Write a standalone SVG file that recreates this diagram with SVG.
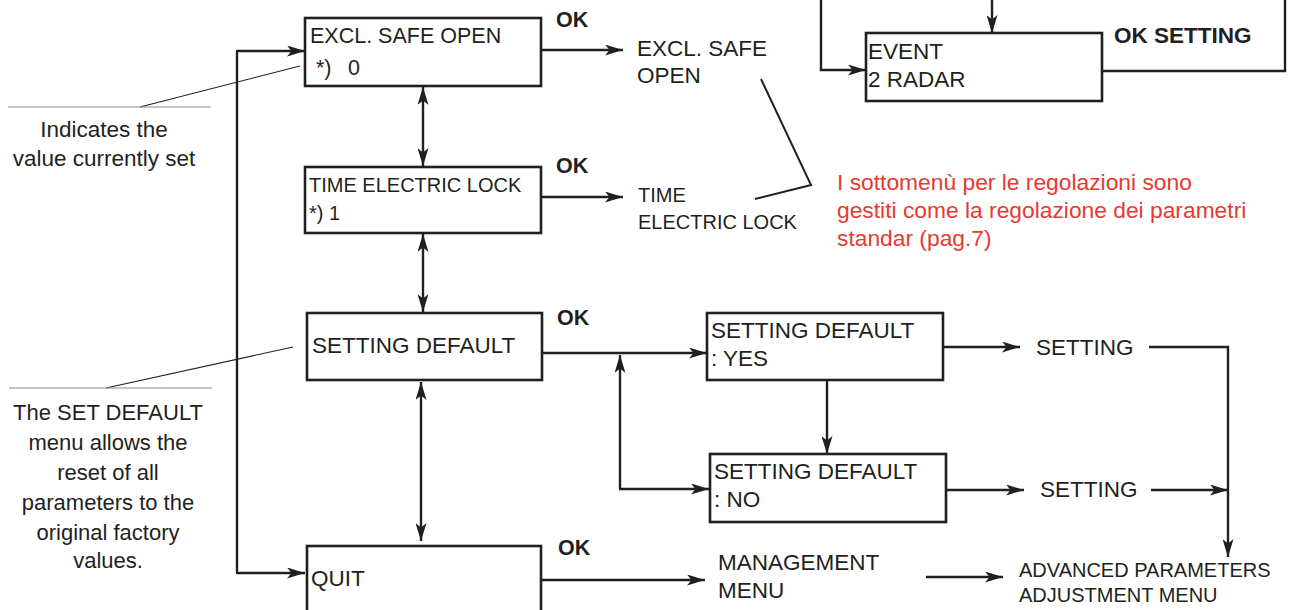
<svg xmlns="http://www.w3.org/2000/svg" width="1290" height="610" viewBox="0 0 1290 610">
  <style>
    .box { fill: #fff; stroke: #231f20; stroke-width: 2.6; }
    .t { font-family: "Liberation Sans", Arial, sans-serif; fill: #231f20; }
    .b { font-weight: bold; }
    .red { fill: #e63a32; }
    .ln { fill: none; stroke: #231f20; stroke-width: 2.4; }
    .arr { marker-end: url(#ah); }
    .dbl { marker-start: url(#ah); marker-end: url(#ah); }
    .lead { fill: none; stroke: #231f20; stroke-width: 1.1; }
    .rule { fill: none; stroke: #8a8a8a; stroke-width: 1.2; }
  </style>
  <defs>
    <marker id="ah" viewBox="0 0 18 11" refX="18" refY="5.5" markerWidth="18" markerHeight="11" markerUnits="userSpaceOnUse" orient="auto-start-reverse">
      <path d="M0,0 L18,5.5 L0,11 L4.5,5.5 z" fill="#231f20"/>
    </marker>
  </defs>
  <rect width="1290" height="610" fill="#fff"/>

  <!-- connectors -->
  <g id="connectors">
    <path class="ln" d="M237,51 V573"/>
    <path class="ln arr" d="M236,51 H305"/>
    <path class="ln arr" d="M236,573 H305"/>
    <path class="ln arr" d="M541,50 H623"/>
    <path class="ln arr" d="M541,197 H623"/>
    <path class="ln dbl" d="M423,87 V166"/>
    <path class="ln dbl" d="M423,234 V312"/>
    <path class="ln dbl" d="M421,382 V541"/>
    <path class="ln arr" d="M542,353 H707"/>
    <path class="ln arr" d="M620,489 V355"/>
    <path class="ln arr" d="M619,489 H709"/>
    <path class="ln arr" d="M827,380 V454"/>
    <path class="ln arr" d="M943,347 H1020"/>
    <path class="ln arr" d="M946,490 H1024"/>
    <path class="ln arr" d="M1149,347 H1228 V557"/>
    <path class="ln arr" d="M1151,490 H1228"/>
    <path class="ln arr" d="M541,580 H705"/>
    <path class="ln arr" d="M926,577 H1003"/>
    <path class="ln arr" d="M992,0 V33"/>
    <path class="ln arr" d="M821,0 V70 H866"/>
    <path class="ln" d="M1102,71 H1285 V0"/>
    <!-- leaders for the notes -->
    <path class="lead" d="M300,66 L140,107"/>
    <path class="rule" d="M8,107 H211"/>
    <path class="lead" d="M293,347 L106,388"/>
    <path class="rule" d="M9,388 H212"/>
    <path class="ln" style="stroke-width:2" d="M761,79 L811,185 L755,199"/>
  </g>

  <!-- menu screens -->
  <g id="excl-safe-open">
    <rect class="box" x="305" y="18" width="236" height="68"/>
    <text class="t" x="310" y="43" font-size="21.5">EXCL. SAFE OPEN</text>
    <text class="t" x="316" y="75" font-size="21.5">*)<tspan x="348">0</tspan></text>
  </g>
  <g id="time-electric-lock">
    <rect class="box" x="305" y="167" width="236" height="66"/>
    <text class="t" x="309" y="192" font-size="20">TIME ELECTRIC LOCK</text>
    <text class="t" x="309" y="220" font-size="20">*) 1</text>
  </g>
  <g id="setting-default">
    <rect class="box" x="307" y="313" width="235" height="67"/>
    <text class="t" x="312" y="353" font-size="22.5">SETTING DEFAULT</text>
  </g>
  <g id="quit">
    <rect class="box" x="307" y="546" width="234" height="70"/>
    <text class="t" x="311" y="586" font-size="22.5">QUIT</text>
  </g>
  <g id="setting-default-yes">
    <rect class="box" x="707" y="313" width="236" height="67"/>
    <text class="t" x="711" y="338" font-size="22.5">SETTING DEFAULT</text>
    <text class="t" x="711" y="366" font-size="22.5">: YES</text>
  </g>
  <g id="setting-default-no">
    <rect class="box" x="710" y="454" width="236" height="68"/>
    <text class="t" x="714" y="479" font-size="22.5">SETTING DEFAULT</text>
    <text class="t" x="714" y="507" font-size="22.5">: NO</text>
  </g>
  <g id="event-radar">
    <rect class="box" x="866" y="33" width="236" height="68"/>
    <text class="t" x="868" y="59" font-size="22.5">EVENT</text>
    <text class="t" x="868" y="87" font-size="22.5">2 RADAR</text>
  </g>

  <!-- outcome labels -->
  <g id="labels">
    <text class="t b" x="556" y="27" font-size="21.5">OK</text>
    <text class="t b" x="556" y="173" font-size="21.5">OK</text>
    <text class="t b" x="557" y="325" font-size="21.5">OK</text>
    <text class="t b" x="558" y="555" font-size="21.5">OK</text>
    <text class="t b" x="1114" y="43" font-size="22.5">OK SETTING</text>
    <text class="t" x="637" y="56" font-size="22.5">EXCL. SAFE</text>
    <text class="t" x="637" y="83" font-size="22.5">OPEN</text>
    <text class="t" x="638" y="202" font-size="20">TIME</text>
    <text class="t" x="638" y="229" font-size="20">ELECTRIC LOCK</text>
    <text class="t" x="1036" y="355" font-size="22.5">SETTING</text>
    <text class="t" x="1040" y="497" font-size="22.5">SETTING</text>
    <text class="t" x="718" y="570" font-size="22.5">MANAGEMENT</text>
    <text class="t" x="718" y="598" font-size="22.5">MENU</text>
    <text class="t" x="1019" y="577" font-size="20">ADVANCED PARAMETERS</text>
    <text class="t" x="1019" y="602" font-size="20">ADJUSTMENT MENU</text>
  </g>

  <!-- notes -->
  <g id="note-current" class="t" font-size="22.5" text-anchor="middle">
    <text x="104" y="137">Indicates the</text>
    <text x="104" y="166">value currently set</text>
  </g>
  <g id="note-default" class="t" font-size="22" text-anchor="middle">
    <text x="108" y="420">The SET DEFAULT</text>
    <text x="108" y="450">menu allows the</text>
    <text x="108" y="480">reset of all</text>
    <text x="108" y="510">parameters to the</text>
    <text x="108" y="540">original factory</text>
    <text x="108" y="568">values.</text>
  </g>
  <g id="note-submenu" class="t red" font-size="22.8">
    <text x="837" y="190">I sottomenù per le regolazioni sono</text>
    <text x="837" y="218">gestiti come la regolazione dei parametri</text>
    <text x="837" y="246">standar (pag.7)</text>
  </g>
</svg>
